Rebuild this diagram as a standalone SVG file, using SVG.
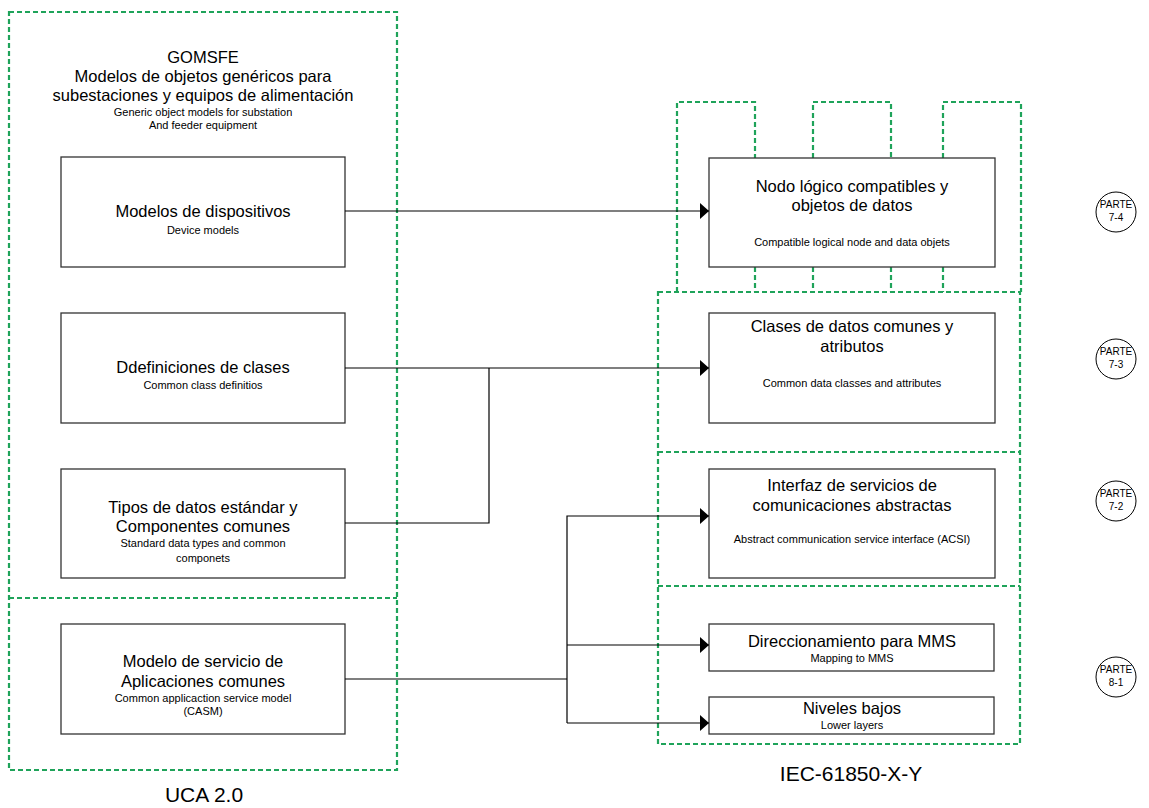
<svg xmlns="http://www.w3.org/2000/svg" width="1149" height="808" viewBox="0 0 1149 808">
  <defs>
    <marker id="arrow" markerWidth="10" markerHeight="18" refX="9" refY="8" orient="auto" markerUnits="userSpaceOnUse">
      <path d="M0,0 L9,8 L0,16 Z" fill="#000"/>
    </marker>
    <style>
      .dash { fill: none; stroke: #1fa35a; stroke-width: 2.2; stroke-dasharray: 5 3; }
      .box { fill: #fff; stroke: #333; stroke-width: 1.3; }
      .conn { fill: none; stroke: #000; stroke-width: 1.2; }
      text { font-family: "Liberation Sans", Arial, sans-serif; fill: #000; text-anchor: middle; }
      .big { font-size: 16.5px; }
      .small { font-size: 11px; }
      .label { font-size: 21px; }
      .ptxt { font-size: 10px; }
      .circ { fill: #fff; stroke: #000; stroke-width: 1; }
    </style>
  </defs>
  <rect width="1149" height="808" fill="#fff"/>

  <!-- container outlines -->
  <g id="containers">
    <rect class="dash" x="9" y="12" width="388" height="758"/>
    <line class="dash" x1="9" y1="598" x2="397" y2="598"/>
    <rect class="dash" x="658" y="292" width="362" height="452"/>
    <line class="dash" x1="658" y1="452" x2="1020" y2="452"/>
    <line class="dash" x1="658" y1="586" x2="1020" y2="586"/>
    <path class="dash" d="M677,292 V102 H755 V158 M755,267 V292 M813,158 V102 H891 V158 M813,267 V292 M891,267 V292 M943,158 V102 H1021 V292 M943,267 V292"/>
  </g>

  <!-- left column: GOMSFE -->
  <g id="gomsfe-title">
    <text class="big" x="203" y="63">GOMSFE</text>
    <text class="big" x="203" y="82">Modelos de objetos genéricos para</text>
    <text class="big" x="203" y="101">subestaciones y equipos de alimentación</text>
    <text class="small" x="203" y="116">Generic object models for substation</text>
    <text class="small" x="203" y="129">And feeder equipment</text>
  </g>

  <g id="device-models">
    <rect class="box" x="61" y="157" width="284" height="110"/>
    <text class="big" x="203" y="217">Modelos de dispositivos</text>
    <text class="small" x="203" y="234">Device models</text>
  </g>

  <g id="class-definitions">
    <rect class="box" x="61" y="313" width="284" height="110"/>
    <text class="big" x="203" y="373">Ddefiniciones de clases</text>
    <text class="small" x="203" y="389">Common class definitios</text>
  </g>

  <g id="data-types">
    <rect class="box" x="61" y="469" width="284" height="109"/>
    <text class="big" x="203" y="513">Tipos de datos estándar y</text>
    <text class="big" x="203" y="532">Componentes comunes</text>
    <text class="small" x="203" y="547">Standard data types and common</text>
    <text class="small" x="203" y="562">componets</text>
  </g>

  <g id="casm">
    <rect class="box" x="61" y="624" width="284" height="110"/>
    <text class="big" x="203" y="667">Modelo de servicio de</text>
    <text class="big" x="203" y="687">Aplicaciones comunes</text>
    <text class="small" x="203" y="702">Common applicaction service model</text>
    <text class="small" x="203" y="715">(CASM)</text>
  </g>

  <g id="uca-label">
    <text class="label" x="204" y="802">UCA 2.0</text>
  </g>

  <!-- right column: IEC 61850 parts -->
  <g id="logical-nodes">
    <rect class="box" x="709" y="158" width="286" height="109"/>
    <text class="big" x="852" y="192">Nodo lógico compatibles y</text>
    <text class="big" x="852" y="211">objetos de datos</text>
    <text class="small" x="852" y="246">Compatible logical node and data objets</text>
  </g>

  <g id="common-data-classes">
    <rect class="box" x="709" y="313" width="286" height="110"/>
    <text class="big" x="852" y="332">Clases de datos comunes y</text>
    <text class="big" x="852" y="352">atributos</text>
    <text class="small" x="852" y="387">Common data classes and attributes</text>
  </g>

  <g id="acsi">
    <rect class="box" x="709" y="469" width="286" height="109"/>
    <text class="big" x="852" y="491">Interfaz de servicios de</text>
    <text class="big" x="852" y="511">comunicaciones abstractas</text>
    <text class="small" x="852" y="543">Abstract communication service interface (ACSI)</text>
  </g>

  <g id="mms-mapping">
    <rect class="box" x="709" y="624" width="285" height="47"/>
    <text class="big" x="852" y="647">Direccionamiento para MMS</text>
    <text class="small" x="852" y="662">Mapping to MMS</text>
  </g>

  <g id="lower-layers">
    <rect class="box" x="709" y="697" width="285" height="37"/>
    <text class="big" x="852" y="714">Niveles bajos</text>
    <text class="small" x="852" y="729">Lower layers</text>
  </g>

  <g id="iec-label">
    <text class="label" x="851" y="781">IEC-61850-X-Y</text>
  </g>

  <!-- part markers -->
  <g id="part-7-4">
    <circle class="circ" cx="1116" cy="212" r="20"/>
    <text class="ptxt" x="1116" y="208">PARTE</text>
    <text class="ptxt" x="1116" y="221">7-4</text>
  </g>
  <g id="part-7-3">
    <circle class="circ" cx="1116" cy="359" r="20"/>
    <text class="ptxt" x="1116" y="355">PARTE</text>
    <text class="ptxt" x="1116" y="368">7-3</text>
  </g>
  <g id="part-7-2">
    <circle class="circ" cx="1116" cy="501" r="20"/>
    <text class="ptxt" x="1116" y="497">PARTE</text>
    <text class="ptxt" x="1116" y="510">7-2</text>
  </g>
  <g id="part-8-1">
    <circle class="circ" cx="1116" cy="677" r="20"/>
    <text class="ptxt" x="1116" y="673">PARTE</text>
    <text class="ptxt" x="1116" y="686">8-1</text>
  </g>

  <!-- connectors -->
  <g id="connectors">
    <path class="conn" d="M345,211 H709" marker-end="url(#arrow)"/>
    <path class="conn" d="M345,368 H709" marker-end="url(#arrow)"/>
    <path class="conn" d="M345,523 H489 V368"/>
    <path class="conn" d="M345,679 H567"/>
    <path class="conn" d="M567,723 V516 H709" marker-end="url(#arrow)"/>
    <path class="conn" d="M567,645 H709" marker-end="url(#arrow)"/>
    <path class="conn" d="M567,723 H709" marker-end="url(#arrow)"/>
  </g>
</svg>
